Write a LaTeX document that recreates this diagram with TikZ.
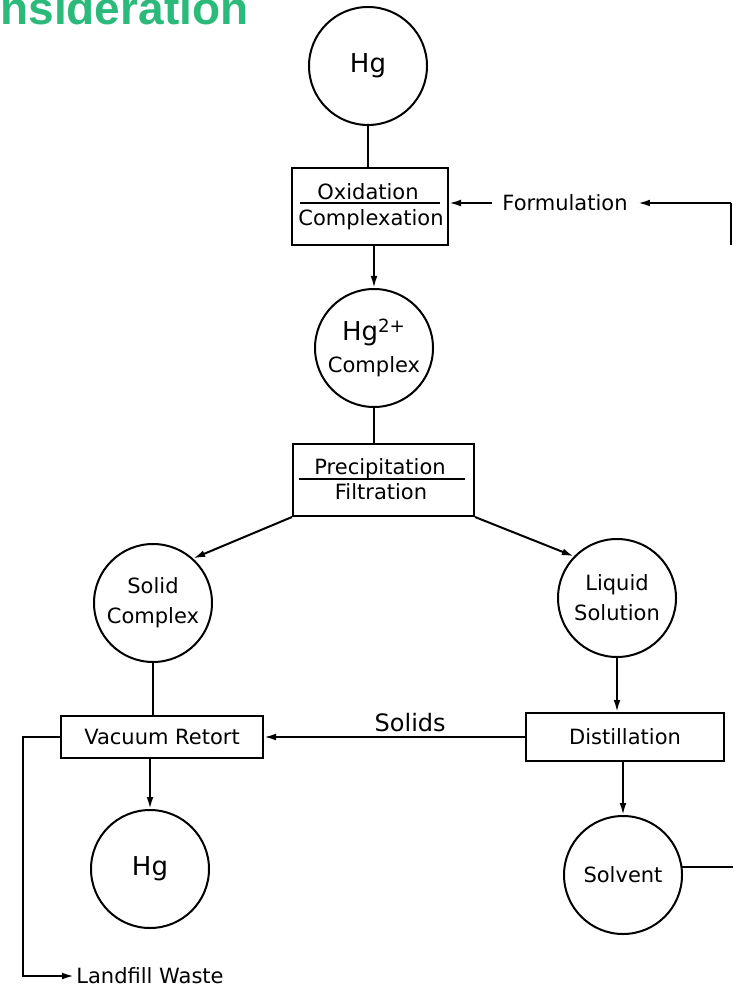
\documentclass[tikz,border=0pt]{standalone}
\usepackage{fontspec}
\setmainfont{DejaVu Sans}
\newfontfamily\headfont{Liberation Sans}
\usepackage{xcolor}
\usetikzlibrary{arrows.meta,positioning}
\definecolor{headgreen}{RGB}{44,186,122}

\begin{document}
\begin{tikzpicture}
    \tikzset{x={(0.5pt, 0pt)}, y={(0pt, -0.5pt)}}
    \tikzset{
        vessel/.style={draw, circle, line width=1pt, minimum size=59pt, inner sep=0pt, align=center, font=\fontsize{10.5}{15}\selectfont},
        unitbox/.style={draw, rectangle, line width=1pt, inner sep=0pt, font=\fontsize{10.5}{12}\selectfont},
        tag/.style={inner sep=1pt, font=\fontsize{10.5}{12}\selectfont},
        pipe/.style={line width=1pt},
        flow/.style={pipe, -{Latex[length=6pt, width=3.4pt]}}
    }
    \useasboundingbox (0, 0) rectangle (733, 988);
    \node[anchor=base west, inner sep=0pt, text=headgreen, font=\headfont\bfseries\fontsize{23}{26}\selectfont] (heading) at (0, 25) {nsideration};

    \node[vessel, font=\fontsize{13}{15}\selectfont] (hgtop) at (368, 66) {Hg};
    \node[unitbox, minimum width=78pt, minimum height=38.5pt] (oxbox) at (370, 206.5) {};
    \node[tag, anchor=base] (oxtop) at (368, 200) {Oxidation};
    \node[tag, anchor=base] (oxbot) at (371, 226) {Complexation};
    \draw[pipe] (300, 203) -- (440, 203);
    \node[tag, inner sep=5pt] (formulation) at (565, 203) {Formulation};
    \coordinate (loopin) at (731, 203);
    \coordinate (looptop) at (731, 245);

    \node[vessel] (hgcplx) at (374, 348) {{\fontsize{13}{15}\selectfont Hg\textsuperscript{2+}}\\[1pt]Complex};
    \node[unitbox, minimum width=90.5pt, minimum height=36pt] (precbox) at (383.5, 480) {};
    \node[tag, anchor=base] (prectop) at (380, 474) {Precipitation};
    \node[tag, anchor=base] (precbot) at (381, 499) {Filtration};
    \draw[pipe] (299, 479) -- (465, 479);

    \node[vessel] (solid) at (153, 603) {Solid\\Complex};
    \node[vessel] (liquid) at (617, 598) {Liquid\\Solution};

    \node[unitbox, minimum width=101pt, minimum height=21pt] (vacbox) at (162, 737) {Vacuum Retort};
    \node[unitbox, minimum width=99pt, minimum height=24pt] (distbox) at (625, 737) {Distillation};

    \node[vessel, font=\fontsize{13}{15}\selectfont] (hgbot) at (150, 869) {Hg};
    \node[vessel] (solvent) at (623, 875) {Solvent};
    \coordinate (loopout) at (733, 867);

    \node[tag, anchor=west] (landfill) at (74, 976) {Landfill Waste};
    \coordinate (lfbend) at (23, 976);

    \draw[pipe] (hgtop.south) -- (hgtop.south |- oxbox.north);
    \draw[flow] (hgcplx.north |- oxbox.south) -- (hgcplx.north);
    \draw[flow] (formulation.west) -- (oxbox.east |- formulation.west);
    \draw[flow] (loopin) -- (formulation.east);
    \draw[pipe] (looptop) -- (loopin);
    \draw[pipe] (hgcplx.south) -- (hgcplx.south |- precbox.north);
    \draw[flow] (precbox.south west) -- (solid.48);
    \draw[flow] (precbox.south east) -- (liquid.136);
    \draw[pipe] (solid.south) -- (solid.south |- vacbox.north);
    \draw[flow] (liquid.south) -- (liquid.south |- distbox.north);
    \draw[flow] (distbox.west) -- (vacbox.east |- distbox.west) node[pos=0.44, above, inner sep=2pt, font=\fontsize{12}{14}\selectfont] (solids) {Solids};
    \draw[flow] (vacbox.south -| hgbot.north) -- (hgbot.north);
    \draw[flow] (distbox.south -| solvent.north) -- (solvent.north);
    \draw[pipe] (solvent.8) -- (solvent.8 -| loopout);
    \draw[flow] (vacbox.west) -| (lfbend) -- (landfill.west);
\end{tikzpicture}
\end{document}
